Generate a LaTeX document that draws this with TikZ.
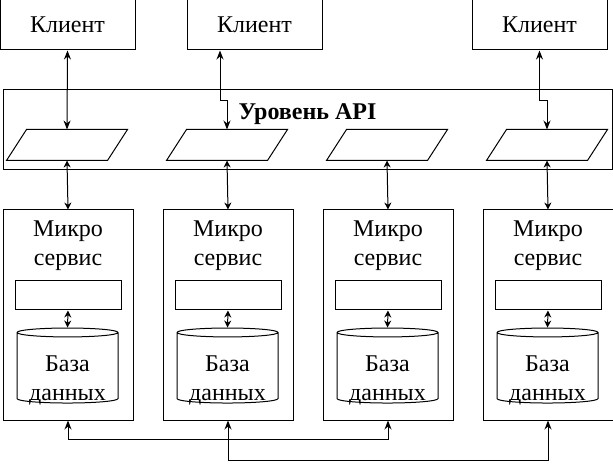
\documentclass[tikz,border=0pt]{standalone}
\usepackage{fontspec}
\setmainfont{Liberation Serif}
\usetikzlibrary{arrows.meta, shapes.geometric, positioning}

\begin{document}
\begin{tikzpicture}[x=1pt, y=-1pt, line width=1pt,
  font=\fontsize{24}{29}\selectfont,
  client/.style={draw, inner sep=0pt, minimum width=135pt, minimum height=50pt},
  gate/.style={inner sep=0pt, minimum width=100pt, minimum height=30pt},
  service/.style={draw, inner sep=0pt, minimum width=130pt, minimum height=210pt},
  slot/.style={draw, inner sep=0pt, minimum width=106pt, minimum height=29pt},
  store/.style={draw, cylinder, shape border rotate=90, aspect=0.2, inner sep=0pt,
    minimum width=101pt, minimum height=75pt},
  link/.style={<->, >={Stealth[length=9pt, width=7pt]}}]

\useasboundingbox (0,0) rectangle (613,470);

% clients
\node[client] (cl1) at (67.5,25) {Клиент};
\node[client] (cl2) at (254.5,25) {Клиент};
\node[client] (cl3) at (539.5,25) {Клиент};

% API layer
\node[draw, minimum width=609pt, minimum height=80pt] (api) at (307.5,130) {};
\node[font=\fontsize{24}{29}\selectfont\bfseries] (apititle) at (307.5,114) {Уровень API};

% services
\foreach \i/\x in {1/67,2/227,3/387,4/547}{
  \node[gate] (gw\i) at (\x,145) {};
  \draw ([xshift=-10pt]gw\i.south west) -- ([xshift=-10pt]gw\i.south east)
    -- ([xshift=10pt]gw\i.north east) -- ([xshift=10pt]gw\i.north west) -- cycle;
  \node[service] (ms\i) at (\x+1,315) {};
  \node[align=center] (mst\i) at (\x+1,246) {Микро\\сервис};
  \node[slot] (sl\i) at (\x+1,295.5) {};
  \node[store] (db\i) at (\x+0.5,368) {\phantom{База}};
  \node[align=center] (dbt\i) at (\x+0.5,380) {База\\данных};
  \draw[link, >={Stealth[length=7pt, width=7pt]}] (gw\i.south) -- (ms\i.north);
  \draw[link, >={Stealth[length=7pt, width=7pt]}] (sl\i.south) -- (db\i.north);
}

\draw[link] (cl1.south) -- (gw1.north);
\draw[link] ([xshift=-34.5pt]cl2.south) -- ++(0,50) -| (gw2.north);
\draw[link] (cl3.south) -- ++(0,50) -| (gw4.north);

\draw[link] (ms1.south) -- ++(0,19) -| (ms3.south);
\draw[link] (ms2.south) -- ++(0,40) -| (ms4.south);
\end{tikzpicture}
\end{document}
